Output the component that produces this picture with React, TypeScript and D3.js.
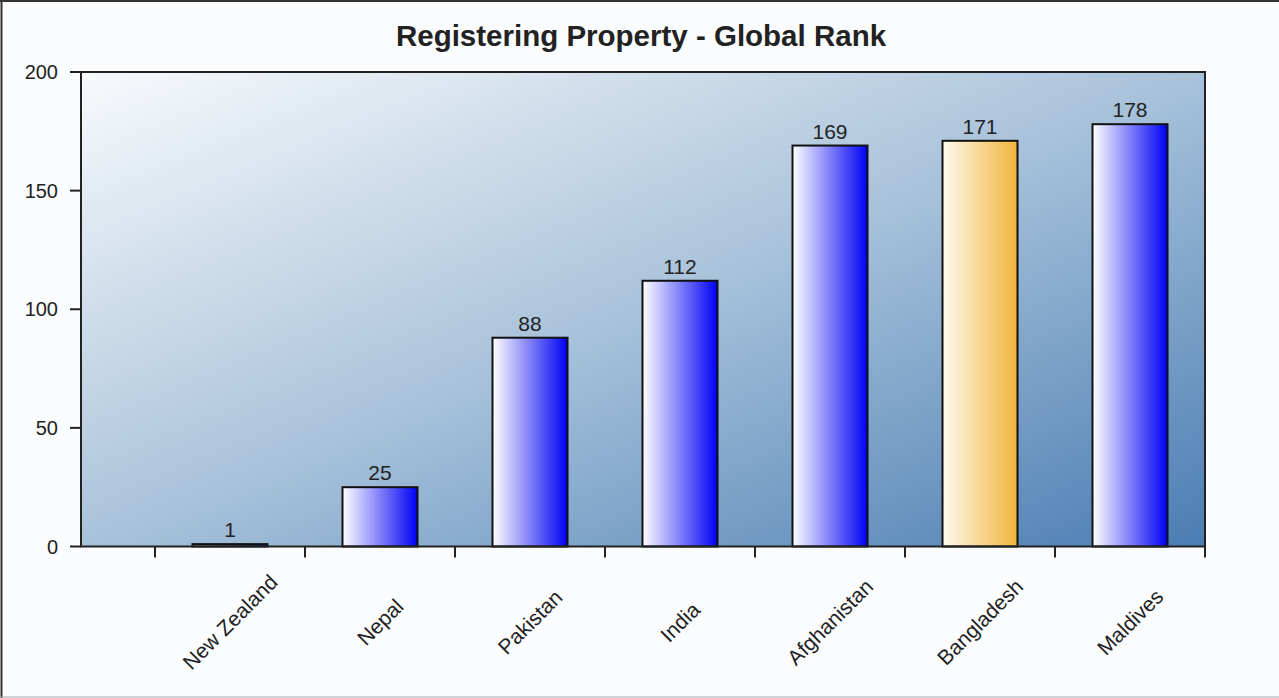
import React from "react";
import * as d3 from "d3";

const categories = ["New Zealand", "Nepal", "Pakistan", "India", "Afghanistan", "Bangladesh", "Maldives"];
const values = [1, 25, 88, 112, 169, 171, 178];
const highlight = ["Bangladesh"];
const yTicks = [0, 50, 100, 150, 200];
const title = "Registering Property - Global Rank";

const W = 1279;
const H = 698;
const FONT = "'Liberation Sans', Arial, sans-serif";

export default function App() {
  const plotL = 81, plotR = 1205, plotT = 72, plotB = 546.5;
  const x = d3.scaleLinear().domain([0, categories.length + 0.5]).range([80, plotR]);
  const y = d3.scaleLinear().domain([0, 200]).range([plotB, plotT]);
  const step = x(1) - x(0);
  const barW = step * 0.5;
  const xTicks = d3.range(0.5, categories.length + 1, 1);

  return (
    <div style={{ position: "absolute", left: 0, top: 0, width: W, height: H, background: "#fafcfe" }}>
      <svg width={W} height={H} style={{ display: "block" }}>
        <defs>
          <linearGradient id="bg" x1="0" y1="0" x2="1" y2="1">
            <stop offset="0" stopColor="#f8fafc" />
            <stop offset="0.5" stopColor="#a8c2da" />
            <stop offset="1" stopColor="#4a7db3" />
          </linearGradient>
          <linearGradient id="blueBar" x1="0" y1="0" x2="1" y2="0">
            <stop offset="0" stopColor="#ffffff" />
            <stop offset="1" stopColor="#0000f4" />
          </linearGradient>
          <linearGradient id="orangeBar" x1="0" y1="0" x2="1" y2="0">
            <stop offset="0" stopColor="#fffaf0" />
            <stop offset="1" stopColor="#f0b43a" />
          </linearGradient>
        </defs>
        <rect x={0} y={0} width={W} height={H} fill="#fafcfe" />
        <line x1={1.5} y1={0} x2={1.5} y2={H} stroke="#333" strokeWidth={2} />
        <line x1={0} y1={1} x2={W} y2={1} stroke="#333" strokeWidth={2} />
        <line x1={0} y1={697} x2={W} y2={697} stroke="#aaa" strokeWidth={1} />

        <text x={641} y={46} textAnchor="middle" fontFamily={FONT} fontWeight="bold" fontSize={29.5} fill="#222">
          {title}
        </text>

        <rect x={plotL} y={plotT} width={plotR - plotL} height={plotB - plotT} fill="url(#bg)" />

        {categories.map((c, i) => {
          const v = values[i];
          const cx = x(i + 1);
          const top = y(v);
          return (
            <g key={c}>
              <rect
                x={cx - barW / 2}
                y={top}
                width={barW}
                height={Math.max(plotB - top, 0)}
                fill={highlight.includes(c) ? "url(#orangeBar)" : "url(#blueBar)"}
                stroke="#111"
                strokeWidth={2}
              />
              <text x={cx} y={top - 7} textAnchor="middle" fontFamily={FONT} fontSize={21} fill="#222">
                {v}
              </text>
              <text
                transform={`translate(${cx},${622}) rotate(-45)`}
                textAnchor="middle"
                dominantBaseline="central"
                fontFamily={FONT}
                fontSize={21}
                fill="#222"
              >
                {c}
              </text>
            </g>
          );
        })}

        {/* plot frame */}
        <rect x={plotL} y={plotT} width={plotR - plotL} height={plotB - plotT} fill="none" stroke="#222" strokeWidth={2} />

        {yTicks.map((t) => (
          <g key={t}>
            <line x1={70} x2={plotL} y1={y(t)} y2={y(t)} stroke="#222" strokeWidth={2} />
            <text x={58} y={y(t)} textAnchor="end" dominantBaseline="central" fontFamily={FONT} fontSize={20} fill="#222">
              {t}
            </text>
          </g>
        ))}
        {xTicks.map((t) => (
          <line key={t} x1={x(t)} x2={x(t)} y1={plotB} y2={plotB + 11} stroke="#222" strokeWidth={2} />
        ))}
      </svg>
    </div>
  );
}
